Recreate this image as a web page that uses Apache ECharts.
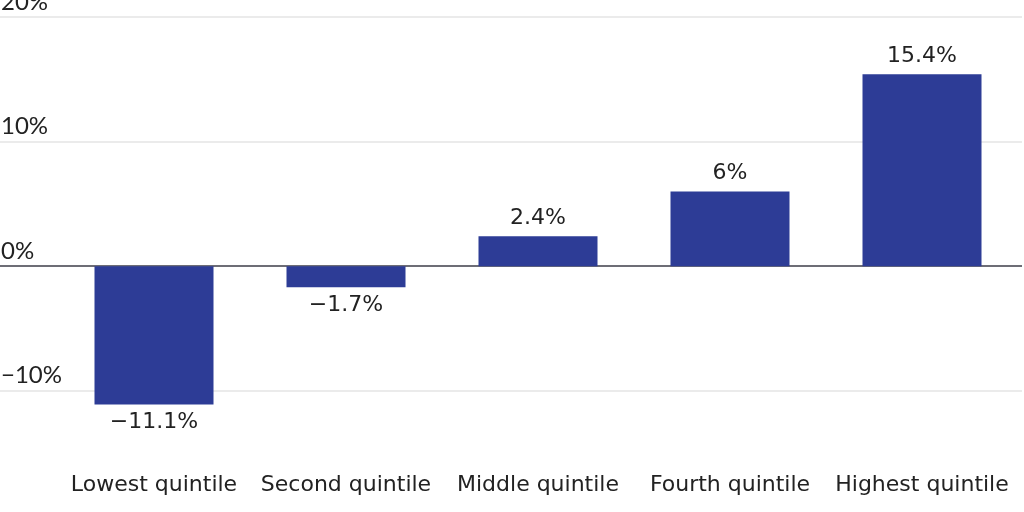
<!DOCTYPE html>
<html>
<head>
<meta charset="utf-8">
<script src="https://cdn.jsdelivr.net/npm/echarts@6/dist/echarts.min.js"></script>
<style>html,body{margin:0;padding:0;background:#fff}#c{width:1024px;height:512px}</style>
</head>
<body>
<div id="c"></div>
<script>
var categories = ['Lowest quintile', 'Second quintile', 'Middle quintile', 'Fourth quintile', 'Highest quintile'];
var values = [-11.1, -1.7, 2.4, 6, 15.4];
var yTicks = [-10, 0, 10, 20];

function fmt(v) {
  return (v < 0 ? '\u2212' + Math.abs(v) : String(v)) + '%';
}

var TXT = '#222';
var FONT = '"DejaVu Sans", sans-serif';
var YFONT = 'Lato, sans-serif';

function render() {
  var chart = echarts.init(document.getElementById('c'));
  var splitColors = [];
  for (var t = -15; t <= 20; t += 5) {
    if (t === 0) splitColors.push('#3c3c48');
    else if (yTicks.indexOf(t) >= 0) splitColors.push('#e4e4e4');
    else splitColors.push('rgba(0,0,0,0)');
  }
  var option = {
    animation: false,
    grid: [
      { left: 0, right: 2, top: 17, bottom: 59, containLabel: false, outerBoundsMode: 'none' },
      { left: 58, right: 6, top: 17, bottom: 59, containLabel: false, outerBoundsMode: 'none' }
    ],
    xAxis: [
      { gridIndex: 0, type: 'value', show: false, min: 0, max: 1 },
      {
        gridIndex: 1, type: 'category', data: categories,
        axisLine: { show: false }, axisTick: { show: false },
        axisLabel: { interval: 0, hideOverlap: false, color: TXT, fontSize: 22, fontFamily: FONT, margin: 21 }
      }
    ],
    yAxis: [
      {
        gridIndex: 0, type: 'value', min: -15, max: 20, interval: 5,
        axisLine: { show: false }, axisTick: { show: false },
        splitLine: { show: true, lineStyle: { color: splitColors, width: 1.5 } },
        axisLabel: {
          inside: true, align: 'left', verticalAlign: 'bottom', margin: 0,
          padding: [0, 0, 3, 1],
          color: TXT, fontSize: 24, fontFamily: YFONT,
          formatter: function (v) { return yTicks.indexOf(v) >= 0 ? fmt(v) : ''; }
        }
      },
      {
        gridIndex: 1, type: 'value', min: -15, max: 20, interval: 5, show: false,
        splitLine: { show: false }
      }
    ],
    series: [{
      type: 'bar',
      xAxisIndex: 1, yAxisIndex: 1,
      barWidth: 119,
      itemStyle: { color: '#2d3c96' },
      data: values.map(function (v) {
        return {
          value: v,
          label: {
            show: true,
            position: v < 0 ? 'bottom' : 'top',
            distance: 7,
            color: TXT, fontSize: 22, fontFamily: FONT,
            formatter: function (p) { return fmt(p.value); }
          }
        };
      })
    }]
  };
  chart.setOption(option);
}

if (document.fonts && document.fonts.load) {
  Promise.all([
    document.fonts.load('24px Lato'),
    document.fonts.load('22px "DejaVu Sans"')
  ]).then(render, render);
} else {
  render();
}
</script>
</body>
</html>
